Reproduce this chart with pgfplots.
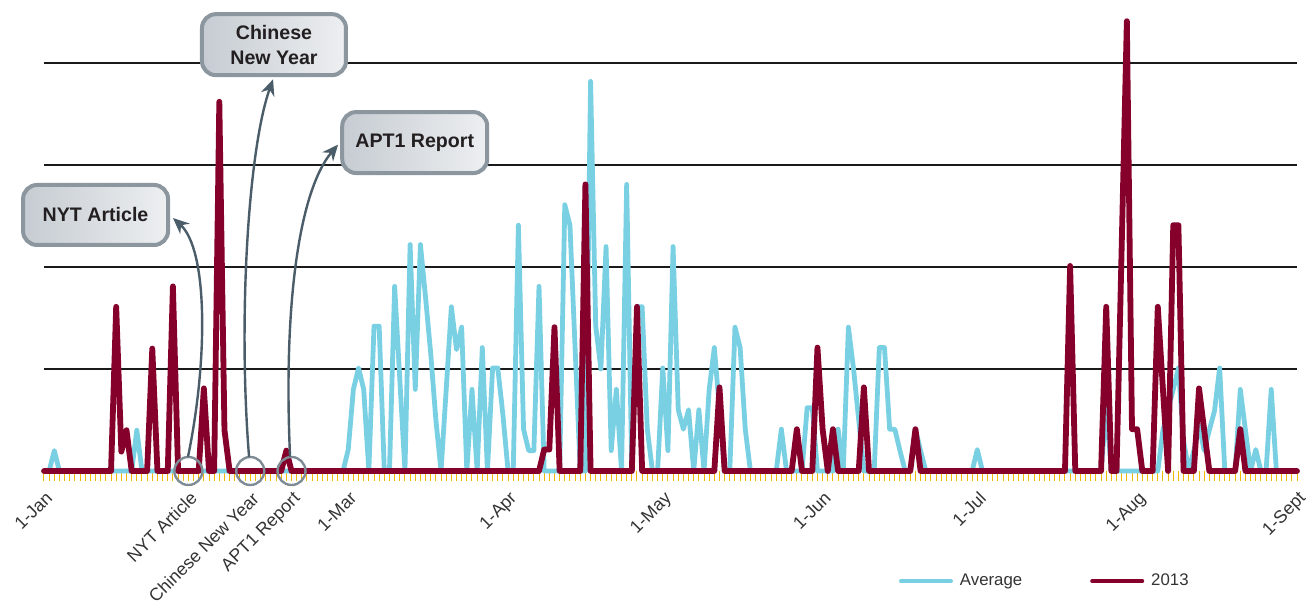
\documentclass[border=0pt]{standalone}
\usepackage{fontspec}
\setmainfont{Liberation Sans}
\usepackage{pgfplots}
\pgfplotsset{compat=1.18}
\usetikzlibrary{arrows.meta}
\definecolor{avgc}{HTML}{7AD0E3}
\definecolor{yrc}{HTML}{85002B}
\definecolor{tickc}{HTML}{F2B705}
\definecolor{gridc}{HTML}{1A1A1A}
\definecolor{boxb}{HTML}{8B969E}
\definecolor{boxl}{HTML}{C6CCD2}
\definecolor{boxr}{HTML}{EDEFF1}
\definecolor{boxt}{HTML}{231F20}
\definecolor{arrc}{HTML}{4A5D69}
\definecolor{circc}{HTML}{7F8C95}
\definecolor{txtc}{HTML}{333333}
\begin{document}
\begin{tikzpicture}
\begin{axis}[
  at={(0pt,0pt)}, anchor=origin,
  scale only axis, width=626.5pt, height=229.5pt,
  xmin=0, xmax=243, ymin=0, ymax=4.5,
  clip=false,
  axis line style={draw=none},
  ytick={1,2,3,4}, yticklabels={}, ytick style={draw=none},
  ymajorgrids, grid style={color=gridc, line width=0.7pt},
  xtick={0,28,40,48,59,90,120,151,181,212,243},
  xticklabels={1-Jan,NYT Article,Chinese New Year,APT1 Report,1-Mar,1-Apr,1-May,1-Jun,1-Jul,1-Aug,1-Sept},
  minor xtick={0,1,...,243},
  xtick pos=left,
  tick align=outside,
  major tick length=5pt, minor tick length=5pt,
  tick style={color=tickc, line width=0.5pt},
  ytick style={draw=none},
  xticklabel style={rotate=45, anchor=north east, xshift=-3pt, yshift=-3.45pt, inner sep=0pt, font=\fontsize{8.9}{10}\selectfont, text=txtc},
  legend style={at={(0.6820,-0.2400)}, anchor=west, draw=none, fill=none, inner sep=0pt,
    font=\fontsize{8.4}{10}\selectfont, text=txtc, legend columns=2,
    /tikz/every odd column/.append style={column sep=1.5pt},
    /tikz/every even column/.append style={column sep=32pt}},
  legend image code/.code={\draw[#1, line width=2pt, line cap=round] (0pt,0pt) -- (25pt,0pt);},
]
\addplot[avgc, line width=2.4pt, line join=round, line cap=round] coordinates {
(0,0)(1,0)(2,0.2)(3,0)(17,0)(18,0.4)(19,0)(58,0)(59,0.21)(60,0.8)(61,1.01)(62,0.8)(63,0)
(64,1.42)(65,1.42)(66,0)(67,0)(68,1.81)(69,0.9)(70,0)(71,2.22)(72,0.8)(73,2.22)(74,1.7)(75,1.15)
(76,0.5)(77,0)(78,0.8)(79,1.61)(80,1.19)(81,1.41)(82,0)(83,0.8)(84,0)(85,1.21)(86,0)(87,1.01)
(88,1.01)(89,0.55)(90,0)(91,0)(92,2.41)(93,0.41)(94,0.2)(95,0.2)(96,1.81)(97,0)(100,0)(101,2.61)
(102,2.41)(103,1.2)(104,0)(105,0)(106,3.82)(107,1.42)(108,1.0)(109,2.2)(110,0.2)(111,0.8)(112,0)
(113,2.81)(114,0)(115,1.61)(116,1.61)(117,0.41)(118,0)(119,0)(120,1.01)(121,0.2)(122,2.2)(123,0.6)
(124,0.41)(125,0.6)(126,0)(127,0.6)(128,0)(129,0.8)(130,1.21)(131,0.6)(132,0)(133,0)(134,1.41)
(135,1.21)(136,0.41)(137,0)(142,0)(143,0.41)(144,0)(147,0)(148,0.62)(149,0.62)(150,0)(153,0)
(154,0.41)(155,0)(156,1.41)(157,1.0)(158,0.5)(159,0)(161,0)(162,1.21)(163,1.21)(164,0.41)
(165,0.41)(166,0.2)(167,0)(168,0)(169,0.41)(170,0.2)(171,0)(180,0)(181,0.21)(182,0)(205,0)
(206,0.62)(207,0)(216,0)(217,0.4)(218,0.6)(219,0.8)(220,1.01)(221,0.3)(222,0)(223,0.2)(224,0.45)
(225,0.2)(226,0.4)(227,0.59)(228,1.01)(229,0)(231,0)(232,0.8)(233,0.4)(234,0)(235,0.21)(236,0)
(237,0)(238,0.8)(239,0)(243,0)
};
\addlegendentry{Average}
\addplot[yrc, line width=2.9pt, line join=round, line cap=round] coordinates {
(0,0)(13,0)(14,1.61)(15,0.19)(16,0.4)(17,0)(20,0)(21,1.2)(22,0)(24,0)(25,1.81)(26,0)(30,0)
(31,0.81)(32,0)(33,0)(34,3.62)(35,0.4)(36,0)(46,0)(47,0.2)(48,0)(96,0)(97,0.21)(98,0.21)(99,1.41)
(100,0)(104,0)(105,2.81)(106,0)(114,0)(115,1.61)(116,0)(130,0)(131,0.82)(132,0)(145,0)(146,0.41)
(147,0)(149,0)(150,1.21)(151,0.41)(152,0)(153,0.41)(154,0)(158,0)(159,0.82)(160,0)(168,0)
(169,0.41)(170,0)(198,0)(199,2.01)(200,0)(205,0)(206,1.61)(207,0)(208,0)(209,2.2)(210,4.41)
(211,0.41)(212,0.41)(213,0)(215,0)(216,1.61)(217,0.8)(218,0)(219,2.41)(220,2.41)(221,0)(223,0)
(224,0.81)(225,0.4)(226,0)(231,0)(232,0.41)(233,0)(243,0)
};
\addlegendentry{2013}
% annotations
\draw[circc, line width=1.2pt] (axis cs:28,0) circle[radius=7pt];
\draw[circc, line width=1.2pt] (axis cs:40,0) circle[radius=7pt];
\draw[circc, line width=1.2pt] (axis cs:48,0) circle[radius=7pt];
\draw[arrc, line width=1.2pt, -{Stealth[length=8pt,width=7pt]}]
  (axis cs:27.93,0.14) .. controls (axis cs:31.81,1.09) and (axis cs:31.81,2.17) .. (axis cs:25.02,2.48);
\draw[arrc, line width=1.2pt, -{Stealth[length=8pt,width=7pt]}]
  (axis cs:39.77,0.14) .. controls (axis cs:37.63,1.48) and (axis cs:39.57,3.15) .. (axis cs:44.42,3.84);
\draw[arrc, line width=1.2pt, -{Stealth[length=8pt,width=7pt]}]
  (axis cs:47.72,0.14) .. controls (axis cs:46.36,1.68) and (axis cs:49.66,2.76) .. (axis cs:57.03,3.2);
\tikzset{cbox/.style={draw=boxb, line width=2pt, rounded corners=7pt, left color=boxl, right color=boxr,
  font=\bfseries\fontsize{9.8}{12.5}\selectfont, text=boxt, align=center, inner sep=0pt}}
\node[cbox, minimum width=72.5pt, minimum height=30pt] at (axis cs:10.0,2.51) {NYT Article};
\node[cbox, minimum width=72pt, minimum height=30.5pt] at (axis cs:44.6,4.18) {Chinese\\New Year};
\node[cbox, minimum width=72.5pt, minimum height=30.5pt] at (axis cs:71.9,3.22) {APT1 Report};
\end{axis}
\pgfresetboundingbox
\useasboundingbox (-22pt,-67.5pt) rectangle (631pt,235.5pt);
\end{tikzpicture}
\end{document}
